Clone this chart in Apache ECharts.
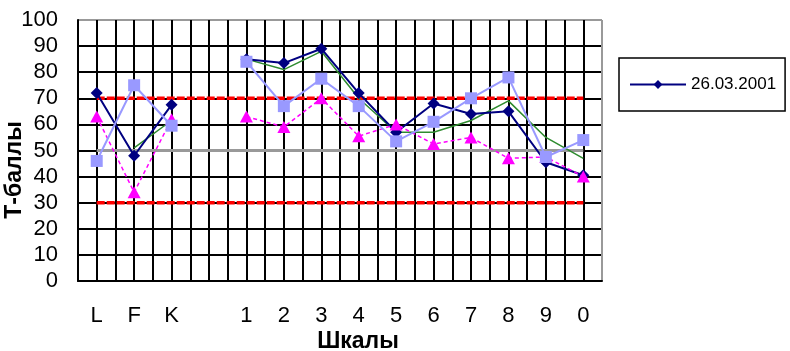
<!DOCTYPE html>
<html>
<head>
<meta charset="utf-8">
<script src="https://cdn.jsdelivr.net/npm/echarts@6/dist/echarts.min.js"></script>
<style>
html,body{margin:0;padding:0;background:#fff;}
#chart{width:790px;height:351px;}
</style>
</head>
<body>
<div id="chart"></div>
<script>
var categories = ['L','F','K','','1','2','3','4','5','6','7','8','9','0'];
var seriesNavy = [72,48,67.5,null,85,83.5,89,72,57,68,64,65,45.5,40.5];
var seriesLight = [46,75,59.5,null,84,67,77.5,67,53.5,61,70,78,47.5,54];
var seriesGreen = [null,51,61.5,null,85,81,88,70,57,57,61.5,69,55,47];
var seriesMagenta = [63,34,62,null,63,59,70,55.5,60,52.5,55,47,47.5,40];
var refHigh = [70,70,70,70,70,70,70,70,70,70,70,70,70,70];
var refMid = [50,50,50,50,50,50,50,50,50,50,50,50,50,50];
var refLow = [30,30,30,30,30,30,30,30,30,30,30,30,30,30];
var legendName = '26.03.2001';
var yTicks = {min:0, max:100, interval:10};

var FONT = 'Liberation Sans, Arial, sans-serif';
var halfCats = [];
for (var i = 0; i < categories.length * 2; i++) halfCats.push('h' + i);
var vColors = [];
for (var i = 0; i <= halfCats.length; i++) vColors.push(i === halfCats.length ? '#999999' : '#000000');
var hColors = [];
for (var i = 0; i <= 10; i++) hColors.push(i === 10 ? '#999999' : '#000000');

var chart = echarts.init(document.getElementById('chart'), null, {renderer:'canvas'});
chart.setOption({
  animation: false,
  backgroundColor: '#ffffff',
  grid: {left:78, right:188, top:20, bottom:70, containLabel:false, outerBoundsMode:'none'},
  legend: {
    data: [legendName],
    left: 619, top: 58,
    orient: 'vertical',
    padding: [18, 9, 18, 10],
    borderColor: '#000', borderWidth: 1.5,
    itemWidth: 56, itemHeight: 11, itemGap: 0,
    textStyle: {fontFamily: FONT, fontSize: 17, color: '#000'}
  },
  xAxis: [{
    type: 'category', data: categories, boundaryGap: true,
    axisLine: {show:true, lineStyle:{color:'#000', width:2}},
    axisTick: {show:false},
    axisLabel: {fontFamily: FONT, fontSize: 22, color:'#000', margin: 24, interval: 0},
    splitLine: {show:false},
    name: 'Шкалы', nameLocation: 'middle', nameGap: 49, nameMoveOverlap: false,
    nameTextStyle: {fontFamily: FONT, fontSize: 23, fontWeight: 'bold', color:'#000', padding:[0,0,0,36]}
  },{
    type: 'category', data: halfCats, boundaryGap: true, position: 'top',
    axisLine: {show:false}, axisTick: {show:false}, axisLabel: {show:false},
    splitLine: {show:true, interval: 0, lineStyle:{color: vColors, width:2}}
  }],
  yAxis: {
    type: 'value', min: yTicks.min, max: yTicks.max, interval: yTicks.interval,
    axisLine: {show:true, lineStyle:{color:'#000', width:2}},
    axisTick: {show:false},
    axisLabel: {fontFamily: FONT, fontSize: 22, color:'#000', margin: 20},
    splitLine: {show:true, lineStyle:{color: hColors, width:2}},
    name: 'Т-баллы', nameLocation: 'middle', nameGap: 52, nameRotate: 90, nameMoveOverlap: false,
    nameTextStyle: {fontFamily: FONT, fontSize: 23, fontWeight: 'bold', color:'#000', padding:[0,39,0,0]}
  },
  series: [
    {name:'r70', type:'line', data: refHigh, symbol:'none', silent:true,
     lineStyle:{color:'#ff0000', width:3.5, type:[8,2]}, z:2},
    {name:'r30', type:'line', data: refLow, symbol:'none', silent:true,
     lineStyle:{color:'#ff0000', width:3.5, type:[8,2]}, z:2},
    {name:'r50', type:'line', data: refMid, symbol:'none', silent:true,
     lineStyle:{color:'#999999', width:3}, z:2},
    {name:'green', type:'line', data: seriesGreen, symbol:'none', connectNulls:false,
     lineStyle:{color:'#2e8b2e', width:1.5}, itemStyle:{color:'#2e8b2e'}, z:3},
    {name: legendName, type:'line', data: seriesNavy, symbol:'diamond', symbolSize:[12,12],
     lineStyle:{color:'#000080', width:2}, itemStyle:{color:'#000080'}, z:4},
    {name:'magenta', type:'line', data: seriesMagenta, symbol:'triangle', symbolSize:[13,12],
     lineStyle:{color:'#ff00ff', width:1.5, type:[4,3]}, itemStyle:{color:'#ff00ff'}, z:5},
    {name:'light', type:'line', data: seriesLight, symbol:'rect', symbolSize:12,
     lineStyle:{color:'#9999ff', width:2}, itemStyle:{color:'#9999ff'}, z:6}
  ]
});
</script>
</body>
</html>
